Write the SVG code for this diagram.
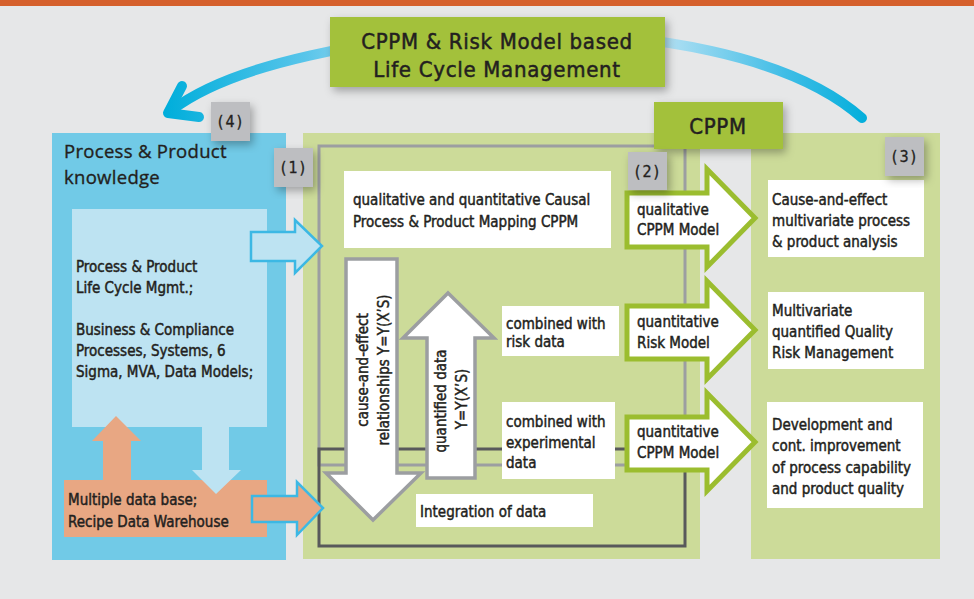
<svg xmlns="http://www.w3.org/2000/svg" width="974" height="599" viewBox="0 0 974 599">
  <defs>
    <style>
      .t { font-family: "DejaVu Sans Condensed", "Liberation Sans", sans-serif; font-size: 15px; fill: #231f20; stroke: #231f20; stroke-width: 0.45px; }
      .tb { font-family: "DejaVu Sans Condensed", "Liberation Sans", sans-serif; font-size: 22px; letter-spacing: 0.7px; fill: #231f20; stroke: #231f20; stroke-width: 0.5px; text-anchor: middle; }
      .num { font-family: "DejaVu Sans Condensed", sans-serif; font-size: 16px; fill: #231f20; stroke: #231f20; stroke-width: 0.3px; text-anchor: middle; letter-spacing: 2px; }
      .head { font-family: "Open Sans", "Liberation Sans", sans-serif; font-size: 18.5px; letter-spacing: 0.3px; fill: #231f20; stroke: #231f20; stroke-width: 0.35px; }
      .tag { fill: #bdbec1; }
      .wbox { fill: #ffffff; }
      .garrow { fill: #ffffff; stroke: #9bbd2f; stroke-width: 5; stroke-linejoin: miter; }
      .varrow { fill: #ffffff; stroke: #9c9ea1; stroke-width: 3.5; stroke-linejoin: miter; }
      .barrow { stroke: #3cb8e4; stroke-width: 2.5; stroke-linejoin: miter; }
    </style>
    <filter id="shadow" x="-30%" y="-30%" width="160%" height="160%">
      <feDropShadow dx="3" dy="4" stdDeviation="4" flood-color="#000" flood-opacity="0.3"/>
    </filter>
    <linearGradient id="arcGrad" gradientUnits="userSpaceOnUse" x1="165" y1="0" x2="870" y2="0">
      <stop offset="0" stop-color="#00aedb"/>
      <stop offset="0.2" stop-color="#59c5ea"/>
      <stop offset="0.33" stop-color="#b4e0f3"/>
      <stop offset="0.5" stop-color="#e2f3fa"/>
      <stop offset="0.7" stop-color="#b8e2f4"/>
      <stop offset="0.88" stop-color="#3fbde6"/>
      <stop offset="1" stop-color="#00aedb"/>
    </linearGradient>
  </defs>

  <!-- page -->
  <rect x="0" y="0" width="974" height="599" fill="#e6e7e8"/>
  <rect x="0" y="0" width="974" height="6" fill="#d5602c"/>

  <!-- life-cycle loop -->
  <g id="loop" fill="none" stroke="url(#arcGrad)" stroke-width="10" stroke-linecap="round" stroke-linejoin="round">
    <path d="M 172 110 C 290 20, 720 -8, 862 118"/>
    <path d="M 182 86 L 168 113 L 199 117"/>
  </g>

  <!-- left column: process & product knowledge -->
  <g id="knowledge">
    <rect x="52" y="133" width="234" height="427" fill="#71cae7"/>
    <text class="head" x="64" y="158">Process &amp; Product</text>
    <text class="head" x="64" y="184">knowledge</text>
  </g>

  <g id="lifecycle">
    <rect x="72" y="209" width="195" height="218" fill="#bde3f2"/>
    <text class="t" x="76" y="272">Process &amp; Product</text>
    <text class="t" x="76" y="293">Life Cycle Mgmt.;</text>
    <text class="t" x="76" y="335">Business &amp; Compliance</text>
    <text class="t" x="76" y="356">Processes, Systems, 6</text>
    <text class="t" x="76" y="377">Sigma, MVA, Data Models;</text>
  </g>

  <g id="database">
    <rect x="64" y="480" width="203" height="57" fill="#e8a783"/>
    <text class="t" x="68" y="505">Multiple data base;</text>
    <text class="t" x="68" y="527">Recipe Data Warehouse</text>
  </g>

  <!-- middle column: CPPM -->
  <g id="cppm-panel">
    <rect x="303" y="133" width="397" height="426" fill="#ccdb99"/>
    <rect x="319" y="146" width="366" height="319" fill="none" stroke="#9c9ea1" stroke-width="3"/>
    <rect x="319" y="449" width="366" height="97" fill="none" stroke="#58595b" stroke-width="3"/>
  </g>

  <!-- right column: outcomes -->
  <g id="outcome-panel">
    <rect x="751" y="133" width="189" height="426" fill="#ccdb99"/>
  </g>

  <g id="connectors">
    <!-- flows inside the knowledge column -->
    <path d="M 202 427 L 229 427 L 229 470 L 241 470 L 216 494 L 192 470 L 202 470 Z" fill="#bde3f2"/>
    <path d="M 103 480 L 103 441 L 92 441 L 116 416 L 141 441 L 131 441 L 131 480 Z" fill="#e8a783"/>
    <!-- inputs into CPPM -->
    <path class="barrow" d="M 251 232 L 295 232 L 295 220 L 322 246 L 295 273 L 295 261 L 251 261 Z" fill="#bde3f2"/>
    <path class="barrow" d="M 252 496 L 297 496 L 297 482 L 323 508 L 297 535 L 297 522 L 252 522 Z" fill="#e8a783"/>
    <!-- vertical flows -->
    <path class="varrow" d="M 346 259 L 397 259 L 397 473 L 421 473 L 373 520 L 326 473 L 346 473 Z"/>
    <path class="varrow" d="M 427 478 L 475 478 L 475 338 L 494 338 L 448 293 L 403 338 L 427 338 Z"/>
    <!-- model outputs -->
    <path class="garrow" d="M 627 193 L 707 193 L 707 169 L 755 218 L 707 267 L 707 247 L 627 247 Z"/>
    <path class="garrow" d="M 627 306 L 707 306 L 707 281 L 755 330 L 707 379 L 707 359 L 627 359 Z"/>
    <path class="garrow" d="M 627 417 L 707 417 L 707 393 L 755 442 L 707 491 L 707 470 L 627 470 Z"/>
  </g>

  <!-- arrow labels -->
  <g id="flow-labels">
    <g class="t">
      <text transform="translate(368,370) rotate(-90)" text-anchor="middle">cause-and-effect</text>
      <text transform="translate(389,370) rotate(-90)" text-anchor="middle">relationships Y=Y(X’S)</text>
      <text transform="translate(446,401) rotate(-90)" text-anchor="middle">quantified data</text>
      <text transform="translate(467,399) rotate(-90)" text-anchor="middle">Y=Y(X’S)</text>
      <text x="637" y="215">qualitative</text>
      <text x="637" y="235">CPPM Model</text>
      <text x="637" y="327">quantitative</text>
      <text x="637" y="348">Risk Model</text>
      <text x="637" y="437">quantitative</text>
      <text x="637" y="458">CPPM Model</text>
    </g>
  </g>

  <g id="mapping">
    <rect class="wbox" x="344" y="171" width="267" height="77"/>
    <text class="t" x="353" y="205">qualitative and quantitative Causal</text>
    <text class="t" x="353" y="227">Process &amp; Product Mapping CPPM</text>
  </g>

  <g id="risk-data">
    <rect class="wbox" x="502" y="306" width="117" height="50"/>
    <text class="t" x="506" y="329">combined with</text>
    <text class="t" x="506" y="347">risk data</text>
  </g>

  <g id="experimental-data">
    <rect class="wbox" x="502" y="402" width="113" height="77"/>
    <text class="t" x="506" y="427">combined with</text>
    <text class="t" x="506" y="448">experimental</text>
    <text class="t" x="506" y="468">data</text>
  </g>

  <g id="integration">
    <rect class="wbox" x="416" y="494" width="177" height="33"/>
    <text class="t" x="420" y="517">Integration of data</text>
  </g>

  <g id="analysis">
    <rect class="wbox" x="768" y="180" width="156" height="77"/>
    <text class="t" x="772" y="205">Cause-and-effect</text>
    <text class="t" x="772" y="226">multivariate process</text>
    <text class="t" x="772" y="247">&amp; product analysis</text>
  </g>

  <g id="qrm">
    <rect class="wbox" x="768" y="292" width="156" height="77"/>
    <text class="t" x="772" y="316">Multivariate</text>
    <text class="t" x="772" y="337">quantified Quality</text>
    <text class="t" x="772" y="358">Risk Management</text>
  </g>

  <g id="improvement">
    <rect class="wbox" x="767" y="402" width="156" height="106"/>
    <text class="t" x="772" y="430">Development and</text>
    <text class="t" x="772" y="451">cont. improvement</text>
    <text class="t" x="772" y="473">of process capability</text>
    <text class="t" x="772" y="494">and product quality</text>
  </g>

  <!-- headings -->
  <g id="title">
    <rect x="330" y="17" width="335" height="70" fill="#a3c13a" filter="url(#shadow)"/>
    <text class="tb" x="497" y="49">CPPM &amp; Risk Model based</text>
    <text class="tb" x="497" y="77">Life Cycle Management</text>
  </g>

  <g id="cppm-label">
    <rect x="654" y="102" width="129" height="47" fill="#a3c13a" filter="url(#shadow)"/>
    <text class="tb" x="718" y="134">CPPM</text>
  </g>

  <!-- step markers -->
  <g id="step-1">
    <rect class="tag" x="274" y="148" width="39" height="39" filter="url(#shadow)"/>
    <text class="num" x="294" y="173">(1)</text>
  </g>
  <g id="step-2">
    <rect class="tag" x="628" y="152" width="39" height="38" filter="url(#shadow)"/>
    <text class="num" x="648" y="177">(2)</text>
  </g>
  <g id="step-3">
    <rect class="tag" x="885" y="137" width="39" height="39" filter="url(#shadow)"/>
    <text class="num" x="905" y="162">(3)</text>
  </g>
  <g id="step-4">
    <rect class="tag" x="211" y="102" width="39" height="39" filter="url(#shadow)"/>
    <text class="num" x="231" y="127">(4)</text>
  </g>
</svg>
